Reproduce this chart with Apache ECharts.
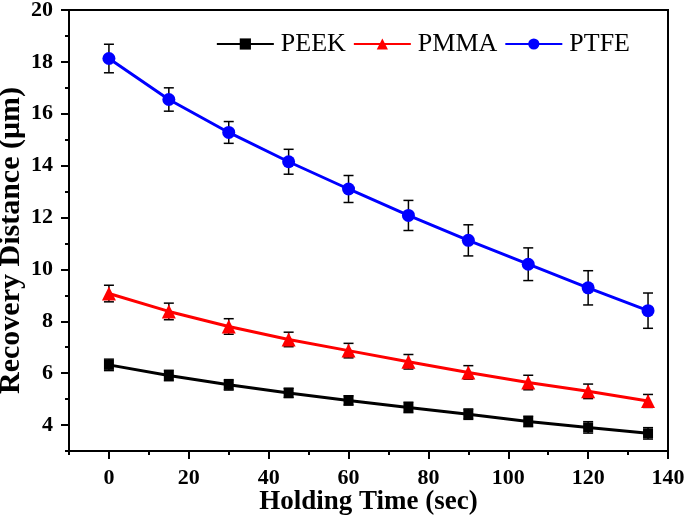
<!DOCTYPE html>
<html><head><meta charset="utf-8">
<script src="https://cdn.jsdelivr.net/npm/echarts@6/dist/echarts.min.js"></script>
<style>html,body{margin:0;padding:0;background:#fff}#c{width:685px;height:516px}</style>
</head><body><div id="c"></div>
<script>
const times = [0, 15, 30, 45, 60, 75, 90, 105, 120, 135];
const peek = [6.32, 5.91, 5.55, 5.24, 4.95, 4.68, 4.42, 4.14, 3.91, 3.68];
const peekErr = [0.22, 0.2, 0.2, 0.18, 0.18, 0.2, 0.2, 0.2, 0.22, 0.22];
const pmma = [9.07, 8.38, 7.8, 7.3, 6.87, 6.44, 6.03, 5.64, 5.3, 4.93];
const pmmaErr = [0.32, 0.32, 0.3, 0.28, 0.28, 0.28, 0.26, 0.28, 0.28, 0.25];
const ptfe = [18.13, 16.55, 15.28, 14.15, 13.1, 12.08, 11.12, 10.2, 9.29, 8.41];
const ptfeErr = [0.55, 0.45, 0.42, 0.48, 0.52, 0.58, 0.6, 0.63, 0.66, 0.68];
const xMajor = [0, 20, 40, 60, 80, 100, 120, 140];
const xMinor = [-10, 10, 30, 50, 70, 90, 110, 130];
const yMajor = [4, 6, 8, 10, 12, 14, 16, 18, 20];
const yMinor = [3, 5, 7, 9, 11, 13, 15, 17, 19];

const font = '"Liberation Serif","Times New Roman",serif';
const chart = echarts.init(document.getElementById('c'));

function errSeries(vals, errs) {
  return {
    type: 'custom',
    z: 1,
    silent: true,
    data: times.map((t, i) => [t, vals[i] - errs[i], vals[i] + errs[i]]),
    renderItem: function (params, api) {
      const lo = api.coord([api.value(0), api.value(1)]);
      const hi = api.coord([api.value(0), api.value(2)]);
      const w = 5;
      const st = { stroke: '#000', lineWidth: 1.5 };
      return {
        type: 'group',
        children: [
          { type: 'line', shape: { x1: lo[0], y1: lo[1], x2: hi[0], y2: hi[1] }, style: st },
          { type: 'line', shape: { x1: lo[0] - w, y1: lo[1], x2: lo[0] + w, y2: lo[1] }, style: st },
          { type: 'line', shape: { x1: hi[0] - w, y1: hi[1], x2: hi[0] + w, y2: hi[1] }, style: st }
        ]
      };
    }
  };
}
function lineSeries(name, vals, color, symbol, size) {
  return {
    name: name, type: 'line', z: 3,
    data: times.map((t, i) => [t, vals[i]]),
    symbol: symbol, symbolSize: size,
    lineStyle: { color: color, width: 3 },
    itemStyle: { color: color },
    animation: false
  };
}

const tickFont = { fontFamily: font, fontWeight: 'bold', fontSize: 22, color: '#000' };

chart.setOption({
  animation: false,
  grid: { left: 69, right: 17, top: 10, bottom: 65, show: true, borderColor: '#000', borderWidth: 2, containLabel: false, outerBoundsMode: 'none' },
  legend: {
    top: 26, right: 50,
    itemWidth: 57, itemHeight: 14, itemGap: 7,
    textStyle: { fontFamily: font, fontSize: 26, color: '#000', padding: [0, 0, 0, 2] },
    data: ['PEEK', 'PMMA', 'PTFE']
  },
  xAxis: [{
    type: 'value', min: -10, max: 140,
    name: 'Holding Time (sec)', nameLocation: 'middle', nameGap: 38, nameMoveOverlap: false,
    nameTextStyle: { fontFamily: font, fontWeight: 'bold', fontSize: 27, color: '#000' },
    axisLine: { show: true, onZero: false, lineStyle: { color: '#000', width: 2 } },
    axisTick: { show: true, length: 8, lineStyle: { color: '#000', width: 2 }, customValues: xMajor },
    axisLabel: { ...tickFont, margin: 16, customValues: xMajor },
    splitLine: { show: false }
  }, {
    type: 'value', min: -10, max: 140, position: 'bottom',
    axisLine: { show: false, onZero: false },
    axisTick: { show: true, length: 4, lineStyle: { color: '#000', width: 2 }, customValues: xMinor },
    axisLabel: { show: false },
    splitLine: { show: false }
  }],
  yAxis: [{
    type: 'value', min: 3, max: 20,
    name: 'Recovery Distance (\u03bcm)', nameLocation: 'middle', nameGap: 43, nameMoveOverlap: false,
    nameTextStyle: { fontFamily: font, fontWeight: 'bold', fontSize: 30, color: '#000', padding: [0, 20, 0, 0] },
    axisLine: { show: true, onZero: false, lineStyle: { color: '#000', width: 2 } },
    axisTick: { show: true, length: 8, lineStyle: { color: '#000', width: 2 }, customValues: yMajor },
    axisLabel: { ...tickFont, margin: 16, customValues: yMajor },
    splitLine: { show: false }
  }, {
    type: 'value', min: 3, max: 20, position: 'left',
    axisLine: { show: false, onZero: false },
    axisTick: { show: true, length: 4, lineStyle: { color: '#000', width: 2 }, customValues: yMinor },
    axisLabel: { show: false },
    splitLine: { show: false }
  }],
  series: [
    errSeries(peek, peekErr),
    errSeries(pmma, pmmaErr),
    errSeries(ptfe, ptfeErr),
    lineSeries('PEEK', peek, '#000000', 'rect', 10),
    lineSeries('PMMA', pmma, '#ff0000', 'triangle', 14),
    lineSeries('PTFE', ptfe, '#0000ff', 'circle', 13)
  ]
});
</script></body></html>
